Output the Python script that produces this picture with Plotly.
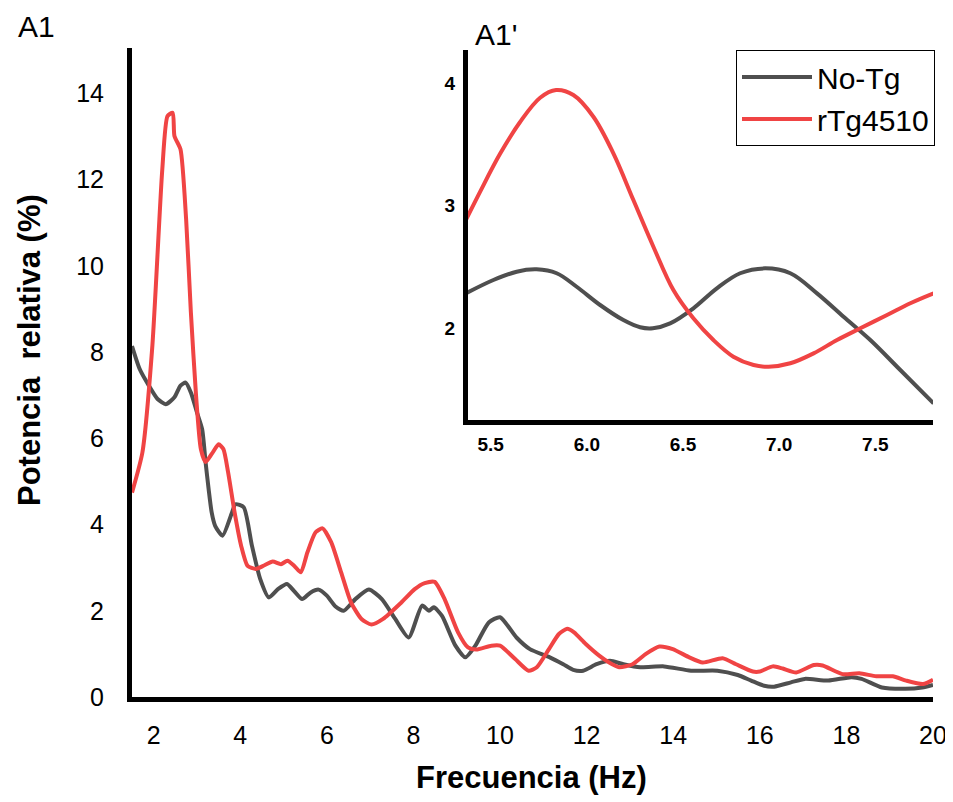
import plotly.graph_objects as go

# ---------------- data ----------------
freq_notg = [1.5, 1.68, 1.89, 2.09, 2.28, 2.48, 2.62, 2.74, 2.86, 3.0, 3.12, 3.2, 3.27, 3.34,
             3.42, 3.59, 3.81, 3.89, 4.08, 4.27, 4.46, 4.66, 4.87, 5.08, 5.25, 5.43, 5.62,
             5.81, 6.0, 6.2, 6.39, 6.66, 6.97, 7.27, 7.58, 7.89, 8.2, 8.36, 8.47, 8.66, 8.97,
             9.2, 9.43, 9.74, 10.0, 10.38, 10.69, 11.15, 11.46, 11.69, 11.92, 12.23, 12.54,
             12.85, 13.24, 13.79, 14.41, 15.02, 15.49, 15.8, 16.1, 16.33, 16.72, 17.04,
             17.58, 18.12, 18.35, 18.82, 19.36, 19.75, 20.0]
notg = [8.14, 7.6, 7.22, 6.91, 6.79, 6.95, 7.22, 7.29, 7.06, 6.6, 6.21, 5.44, 4.82, 4.28,
        3.97, 3.74, 4.28, 4.47, 4.40, 3.51, 2.74, 2.31, 2.50, 2.62, 2.45, 2.27, 2.42,
        2.49, 2.35, 2.1, 2.0, 2.27, 2.49, 2.27, 1.81, 1.38, 2.12, 2.0, 2.08, 1.88, 1.19,
        0.92, 1.19, 1.73, 1.85, 1.38, 1.11, 0.92, 0.76, 0.63, 0.61, 0.76, 0.84,
        0.76, 0.69, 0.71, 0.61, 0.61, 0.51, 0.38, 0.26, 0.24, 0.34, 0.42,
        0.38, 0.46, 0.42, 0.22, 0.19, 0.22, 0.28]

freq_rtg = [1.5, 1.74, 1.97, 2.2, 2.32, 2.44, 2.48, 2.62, 2.75, 2.86, 2.98, 3.09, 3.2, 3.35,
            3.5, 3.61, 3.72, 3.87, 4.02, 4.17, 4.36, 4.55, 4.75, 4.94, 5.09, 5.25, 5.4,
            5.55, 5.74, 5.9, 6.1, 6.33, 6.56, 6.8, 7.03, 7.3, 7.72, 8.03, 8.26, 8.49, 8.72,
            9.03, 9.26, 9.45, 9.8, 10.0, 10.35, 10.66, 10.85, 11.13, 11.36, 11.55, 11.71,
            11.98, 12.29, 12.52, 12.75, 13.06, 13.37, 13.68, 13.99, 14.37, 14.68, 15.14,
            15.45, 15.84, 16.0, 16.3, 16.53, 16.84, 17.25, 17.45, 17.91, 18.3, 18.69,
            19.07, 19.38, 19.77, 20.0]
rtg = [4.74, 5.67, 8.14, 12.24, 13.47, 13.55, 13.01, 12.7, 11.08, 8.92, 6.98, 5.75, 5.45, 5.65,
       5.86, 5.75, 5.21, 4.28, 3.51, 3.04, 2.97, 3.05, 3.14, 3.08, 3.16, 3.04, 2.89,
       3.35, 3.82, 3.91, 3.59, 2.89, 2.19, 1.81, 1.68, 1.81, 2.19, 2.50, 2.64, 2.67, 2.27,
       1.50, 1.15, 1.10, 1.19, 1.19, 0.88, 0.61, 0.69, 1.11, 1.46, 1.58, 1.50,
       1.23, 0.96, 0.80, 0.69, 0.76, 1.0, 1.17, 1.11, 0.92, 0.80, 0.90,
       0.76, 0.59, 0.59, 0.71, 0.66, 0.57, 0.74, 0.73, 0.53, 0.55, 0.48,
       0.48, 0.38, 0.30, 0.40]

# inset (A1') zoom 5.4 - 7.8 Hz
inset_freq_notg = [5.371, 5.514, 5.635, 5.739, 5.843, 5.947, 6.069, 6.190, 6.277, 6.343,
                   6.433, 6.554, 6.676, 6.797, 6.927, 7.058, 7.197, 7.335, 7.474, 7.630, 7.803]
inset_notg = [2.283, 2.392, 2.460, 2.479, 2.447, 2.337, 2.188, 2.065, 2.006, 1.998,
              2.038, 2.161, 2.324, 2.447, 2.487, 2.447, 2.283, 2.092, 1.902, 1.657, 1.385]
inset_freq_rtg = [5.371, 5.444, 5.548, 5.652, 5.757, 5.840, 5.930, 6.034, 6.138, 6.242,
                  6.346, 6.450, 6.554, 6.658, 6.762, 6.867, 6.945, 7.058, 7.179, 7.301,
                  7.422, 7.561, 7.682, 7.803]
inset_rtg = [2.882, 3.110, 3.420, 3.680, 3.880, 3.943, 3.902, 3.725, 3.426, 3.045,
             2.664, 2.310, 2.079, 1.902, 1.766, 1.698, 1.684, 1.712, 1.793, 1.902,
             1.998, 2.106, 2.202, 2.283]

main_xticks = [2, 4, 6, 8, 10, 12, 14, 16, 18, 20]
main_yticks = [0, 2, 4, 6, 8, 10, 12, 14]
inset_xticks = [5.5, 6.0, 6.5, 7.0, 7.5]
inset_xticklabels = ["5.5", "6.0", "6.5", "7.0", "7.5"]
inset_yticks = [2, 3, 4]

GRAY = "#4f4f4f"
RED = "#f04444"
FONT = "Liberation Sans, Arial, sans-serif"

# page is 953x802; the html body adds an 8 px margin around the figure
OFF = 8
W, H = 953 - OFF, 802 - OFF
# plot area edges in page pixels
P_LEFT, P_RIGHT, P_TOP, P_BOTTOM = 132, 933, 48, 697
L = P_LEFT - OFF
R = W - (P_RIGHT - OFF)
T = P_TOP - OFF
B = H - (P_BOTTOM - OFF)
pw, ph = P_RIGHT - P_LEFT, P_BOTTOM - P_TOP


def px(xp):
    return (xp - P_LEFT) / pw


def py(yp):
    return (P_BOTTOM - yp) / ph


fig = go.Figure()

fig.add_trace(go.Scatter(x=freq_notg, y=notg, mode="lines", name="No-Tg",
                         line=dict(color=GRAY, width=4, shape="spline", smoothing=0.6),
                         showlegend=False, xaxis="x", yaxis="y"))
fig.add_trace(go.Scatter(x=freq_rtg, y=rtg, mode="lines", name="rTg4510",
                         line=dict(color=RED, width=4, shape="spline", smoothing=0.6),
                         showlegend=False, xaxis="x", yaxis="y"))

fig.add_trace(go.Scatter(x=inset_freq_notg, y=inset_notg, mode="lines", name="No-Tg",
                         line=dict(color=GRAY, width=4, shape="spline", smoothing=1.0),
                         xaxis="x2", yaxis="y2"))
fig.add_trace(go.Scatter(x=inset_freq_rtg, y=inset_rtg, mode="lines", name="rTg4510",
                         line=dict(color=RED, width=4, shape="spline", smoothing=1.0),
                         xaxis="x2", yaxis="y2"))

fig.update_layout(
    width=W, height=H,
    margin=dict(l=L, r=R, t=T, b=B, autoexpand=False),
    paper_bgcolor="white", plot_bgcolor="white",
    font=dict(family=FONT, color="black"),
    xaxis=dict(domain=[0, 1], range=[1.5, 20.0], tickvals=main_xticks,
               showgrid=False, zeroline=False, showline=True, linecolor="black",
               linewidth=5, ticks="", ticklabelstandoff=12,
               tickfont=dict(size=25, family=FONT)),
    yaxis=dict(domain=[0, 1], range=[0, 15.05], tickvals=main_yticks,
               showgrid=False, zeroline=False, showline=True, linecolor="black",
               linewidth=5, ticks="", ticklabelstandoff=18,
               tickfont=dict(size=25, family=FONT)),
    xaxis2=dict(domain=[px(468), 1.0], anchor="y2", range=[5.382, 7.80],
                tickvals=inset_xticks, ticktext=inset_xticklabels,
                showgrid=False, zeroline=False, showline=True, linecolor="black",
                linewidth=5, ticks="", ticklabelstandoff=3,
                tickfont=dict(size=19, family=FONT, weight="bold")),
    yaxis2=dict(domain=[py(420), py(50)], anchor="x2", range=[1.249, 4.27],
                tickvals=inset_yticks,
                showgrid=False, zeroline=False, showline=True, linecolor="black",
                linewidth=5, ticks="", ticklabelstandoff=4,
                tickfont=dict(size=19, family=FONT, weight="bold")),
    legend=dict(x=px(935), y=py(50), xanchor="right", yanchor="top",
                bgcolor="white", bordercolor="black", borderwidth=1,
                itemwidth=70, font=dict(size=30, family=FONT), tracegroupgap=0),
    annotations=[
        dict(text="A1", x=px(16), y=py(26), xref="paper", yref="paper",
             xanchor="left", yanchor="middle", showarrow=False,
             font=dict(size=30, family=FONT)),
        dict(text="A1'", x=px(473), y=py(35), xref="paper", yref="paper",
             xanchor="left", yanchor="middle", showarrow=False,
             font=dict(size=30, family=FONT)),
        dict(text="<b>Potencia&nbsp; relativa (%)</b>", x=px(29), y=py(350),
             xref="paper", yref="paper", xanchor="center", yanchor="middle",
             textangle=-90, showarrow=False, font=dict(size=31, family=FONT)),
        dict(text="<b>Frecuencia (Hz)</b>", x=px(531), y=py(777),
             xref="paper", yref="paper", xanchor="center", yanchor="middle",
             showarrow=False, font=dict(size=31, family=FONT)),
    ],
)

fig.write_html("out.html")
